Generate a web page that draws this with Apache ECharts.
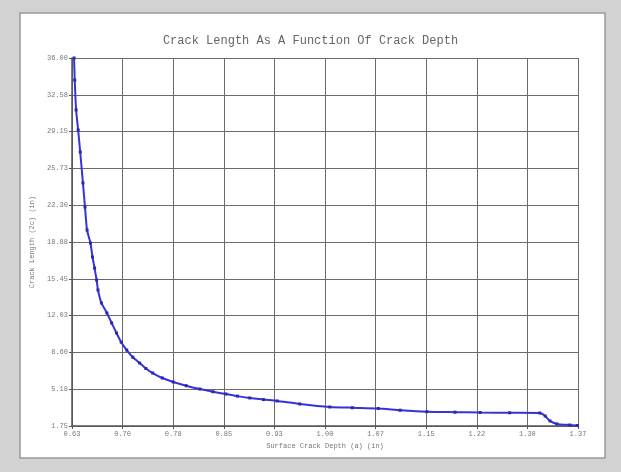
<!DOCTYPE html>
<html>
<head>
<meta charset="utf-8">
<script src="https://cdn.jsdelivr.net/npm/echarts@6/dist/echarts.min.js"></script>
<style>
  html, body { margin: 0; padding: 0; background: #d2d2d2; }
  #chart { width: 621px; height: 472px; }
</style>
</head>
<body>
<div id="chart"></div>
<script>
// crack depth a (in) vs crack length 2c (in)
var depthA = [0.633, 0.634, 0.636, 0.639, 0.642, 0.646, 0.649, 0.652, 0.657, 0.660,
  0.663, 0.666, 0.668, 0.673, 0.681, 0.688, 0.695, 0.702, 0.710, 0.719, 0.729, 0.738, 0.748,
  0.762, 0.778, 0.797, 0.817, 0.836, 0.855, 0.872, 0.890, 0.910, 0.930, 0.963, 1.007, 1.040, 1.078, 1.110, 1.149, 1.190, 1.227,
  1.270, 1.314, 1.322, 1.329, 1.339, 1.358, 1.369];
var length2c = [36.00, 33.95, 31.16, 29.30, 27.25, 24.37, 22.13, 19.99, 18.78, 17.48,
  16.45, 15.34, 14.41, 13.20, 12.27, 11.34, 10.41, 9.55, 8.82, 8.15, 7.61, 7.10, 6.68,
  6.22, 5.85, 5.50, 5.19, 4.94, 4.73, 4.53, 4.36, 4.21, 4.08, 3.80, 3.52, 3.45, 3.38, 3.22, 3.08, 3.04, 3.01,
  2.98, 2.96, 2.68, 2.22, 1.94, 1.84, 1.80];
var xTicks = ['0.63', '0.70', '0.78', '0.85', '0.93', '1.00', '1.07', '1.15', '1.22', '1.30', '1.37'];
var yTicks = ['1.75', '5.18', '8.60', '12.03', '15.45', '18.88', '22.30', '25.73', '29.15', '32.58', '36.00'];

var chart = echarts.init(document.getElementById('chart'));
var mono = '"Liberation Mono", "DejaVu Sans Mono", monospace';

chart.setOption({
  backgroundColor: '#d2d2d2',
  animation: false,
  graphic: [{
    type: 'rect', z: -10,
    shape: { x: 20, y: 13, width: 585, height: 445 },
    style: { fill: '#ffffff', stroke: '#9a9a9a', lineWidth: 1.5 }
  }],
  title: {
    text: 'Crack Length As A Function Of Crack Depth',
    left: 'center', top: 30,
    textStyle: { fontFamily: mono, fontSize: 12, fontWeight: 'normal', color: '#666' }
  },
  grid: { left: 72, right: 43, top: 58, bottom: 46 },
  xAxis: [
    { type: 'value', min: 0.63, max: 1.37, show: false },
    {
      type: 'category', data: xTicks, boundaryGap: false, position: 'bottom',
      name: 'Surface Crack Depth (a) (in)', nameLocation: 'middle', nameGap: 15,
      nameTextStyle: { fontFamily: mono, fontSize: 7, color: '#777' },
      axisLine: { lineStyle: { color: '#555', width: 1.5 } },
      axisTick: { show: true, length: 3, lineStyle: { color: '#555' } },
      axisLabel: { interval: 0, fontFamily: mono, fontSize: 7, color: '#777', margin: 5 },
      splitLine: { show: true, interval: 0, lineStyle: { color: '#6a6a6a', width: 1 } }
    }
  ],
  yAxis: [
    { type: 'value', min: 1.75, max: 36, show: false },
    {
      type: 'category', data: yTicks, boundaryGap: false, position: 'left',
      name: 'Crack Length (2c) (in)', nameLocation: 'middle', nameGap: 26, nameRotate: 90,
      nameTextStyle: { fontFamily: mono, fontSize: 7, color: '#777' },
      axisLine: { lineStyle: { color: '#555', width: 1.5 } },
      axisTick: { show: true, length: 3, lineStyle: { color: '#555' } },
      axisLabel: { interval: 0, fontFamily: mono, fontSize: 7, color: '#777', margin: 4 },
      splitLine: { show: true, interval: 0, lineStyle: { color: '#6a6a6a', width: 1 } }
    }
  ],
  series: [{
    type: 'line', xAxisIndex: 0, yAxisIndex: 0,
    data: depthA.map(function (a, i) { return [a, length2c[i]]; }),
    smooth: 0.2,
    symbol: 'rect', symbolSize: 3, showAllSymbol: true,
    lineStyle: { color: '#3434d6', width: 2 },
    itemStyle: { color: '#2a2ab0' }
  }]
});
</script>
</body>
</html>
